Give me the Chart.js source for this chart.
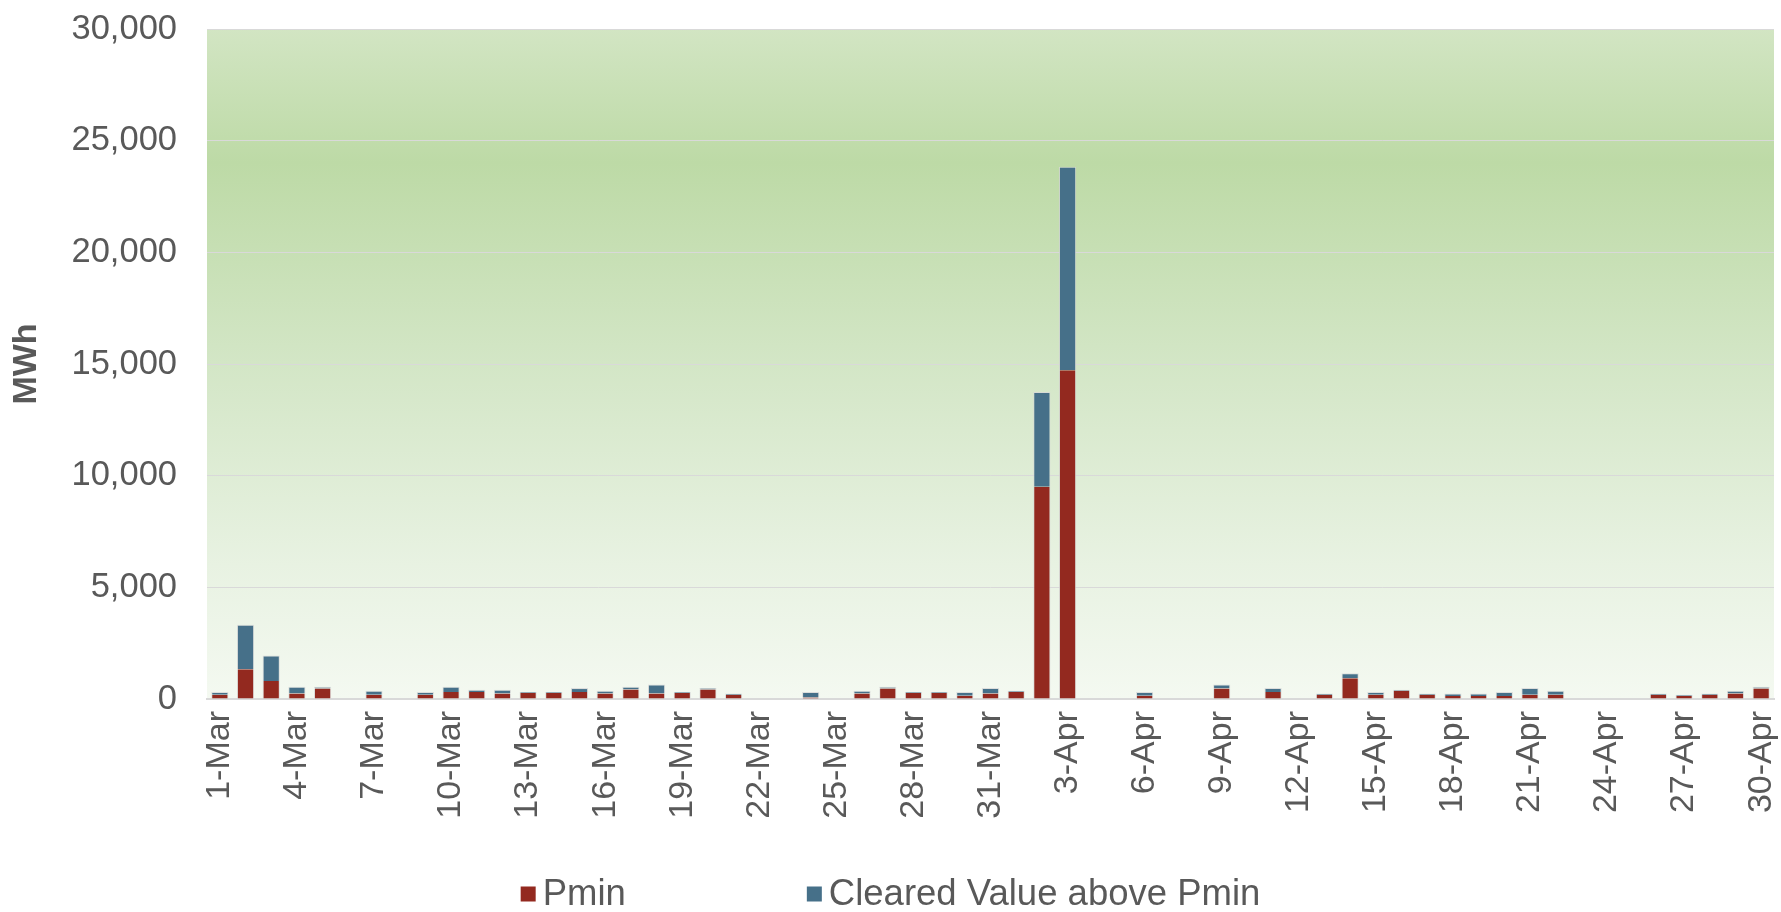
<!DOCTYPE html>
<html>
<head>
<meta charset="utf-8">
<script src="https://cdn.jsdelivr.net/npm/chart.js@4.4.1/dist/chart.umd.min.js"></script>
<style>
  html, body { margin: 0; padding: 0; background: #fff; }
  #wrap { width: 1781px; height: 912px; }
</style>
</head>
<body>
<div id="wrap"><canvas id="chart" width="1781" height="912"></canvas></div>
<script>
// categories: daily, 1-Mar .. 30-Apr
const days = [
  '1-Mar','2-Mar','3-Mar','4-Mar','5-Mar','6-Mar','7-Mar','8-Mar','9-Mar','10-Mar',
  '11-Mar','12-Mar','13-Mar','14-Mar','15-Mar','16-Mar','17-Mar','18-Mar','19-Mar','20-Mar',
  '21-Mar','22-Mar','23-Mar','24-Mar','25-Mar','26-Mar','27-Mar','28-Mar','29-Mar','30-Mar','31-Mar',
  '1-Apr','2-Apr','3-Apr','4-Apr','5-Apr','6-Apr','7-Apr','8-Apr','9-Apr','10-Apr',
  '11-Apr','12-Apr','13-Apr','14-Apr','15-Apr','16-Apr','17-Apr','18-Apr','19-Apr','20-Apr',
  '21-Apr','22-Apr','23-Apr','24-Apr','25-Apr','26-Apr','27-Apr','28-Apr','29-Apr','30-Apr'
];

// MWh
const pmin = [
  190, 1330, 810, 250, 470, 0, 190, 0, 190, 310,
  310, 250, 270, 270, 310, 250, 430, 250, 270, 430,
  190, 0, 0, 70, 0, 250, 470, 270, 270, 150, 250,
  310, 9500, 14720, 0, 0, 150, 0, 0, 470, 0,
  310, 0, 190, 930, 190, 370, 190, 130, 130, 130,
  190, 190, 0, 0, 0, 190, 130, 190, 250, 470
];

const clearedAbove = [
  120, 2000, 1140, 300, 75, 0, 180, 0, 120, 240,
  105, 165, 45, 45, 180, 120, 120, 400, 45, 60,
  60, 0, 0, 240, 0, 120, 75, 40, 40, 160, 240,
  60, 4250, 9110, 0, 0, 160, 0, 0, 180, 0,
  180, 0, 60, 220, 120, 45, 60, 120, 120, 180,
  300, 180, 0, 0, 0, 60, 60, 60, 120, 75
];

const yTicks = [0, 5000, 10000, 15000, 20000, 25000, 30000];

const RED = '#93291f';
const BLUE = '#467089';
const TEXT = '#595959';
const EDGE = 'rgba(215,215,215,0.8)';
const FONT = '"Liberation Sans", Arial, sans-serif';

// green gradient behind the plot area
const PluginPlotBackground = {
  id: 'plotBackground',
  beforeDraw(chart) {
    const {ctx, chartArea: {left, top, right, bottom}} = chart;
    const g = ctx.createLinearGradient(0, top, 0, bottom);
    g.addColorStop(0, '#d2e5c3');
    g.addColorStop(0.2, '#bddaa6');
    g.addColorStop(0.5, '#d3e6c6');
    g.addColorStop(0.8, '#e8f2e2');
    g.addColorStop(1, '#f4f9f1');
    ctx.save();
    ctx.fillStyle = g;
    ctx.fillRect(left, top, right - left, bottom - top);
    ctx.restore();
  }
};

// legend drawn at the bottom with wide spacing between items
const PluginWideLegend = {
  id: 'wideLegend',
  afterDraw(chart, args, options) {
    const {ctx} = chart;
    const items = chart.data.datasets.map(ds => ({text: ds.label, color: ds.backgroundColor}));
    const box = options.boxSize, gap = options.textGap, between = options.itemGap;
    ctx.save();
    ctx.font = `${options.fontSize}px ${FONT}`;
    const widths = items.map(it => box + gap + ctx.measureText(it.text).width);
    const total = widths.reduce((a, b) => a + b, 0) + between * (items.length - 1);
    let x = (chart.width - total) / 2;
    const y = chart.height - options.bottomOffset;
    ctx.textBaseline = 'middle';
    ctx.textAlign = 'left';
    items.forEach((it, i) => {
      ctx.fillStyle = it.color;
      ctx.fillRect(x, y - box / 2, box, box);
      ctx.fillStyle = TEXT;
      ctx.fillText(it.text, x + box + gap, y + 1);
      x += widths[i] + between;
    });
    ctx.restore();
  }
};

const ctx = document.getElementById('chart').getContext('2d');

new Chart(ctx, {
  type: 'bar',
  plugins: [PluginPlotBackground, PluginWideLegend],
  data: {
    labels: days,
    datasets: [
      {
        label: 'Pmin',
        data: pmin,
        backgroundColor: RED,
        borderColor: EDGE,
        borderWidth: {top: 0, left: 1, right: 1, bottom: 0},
      },
      {
        label: 'Cleared Value above Pmin',
        data: clearedAbove,
        backgroundColor: BLUE,
        borderColor: EDGE,
        borderWidth: {top: 1, left: 1, right: 1, bottom: 0},
      }
    ]
  },
  options: {
    responsive: false,
    animation: false,
    devicePixelRatio: 1,
    categoryPercentage: 1,
    barPercentage: 0.67,
    layout: {
      padding: {top: 29, right: 7, bottom: 62, left: 0}
    },
    plugins: {
      legend: {display: false},
      tooltip: {enabled: false},
      wideLegend: {
        fontSize: 36.5,
        boxSize: 15,
        textGap: 7,
        itemGap: 181,
        bottomOffset: 18
      }
    },
    scales: {
      x: {
        stacked: true,
        grid: {display: false, drawTicks: false},
        border: {display: true, color: '#d9d9d9', width: 2},
        ticks: {
          autoSkip: false,
          maxRotation: 90,
          minRotation: 90,
          padding: 12,
          color: TEXT,
          font: {family: FONT, size: 34},
          callback: function(value, index) {
            return index % 3 === 0 ? this.getLabelForValue(value) : null;
          }
        },
        afterFit(scale) {
          scale.height = 912 - 699 - 62;
          scale.paddingLeft = 0;
          scale.paddingRight = 0;
        }
      },
      y: {
        stacked: true,
        min: yTicks[0],
        max: yTicks[yTicks.length - 1],
        afterBuildTicks(scale) {
          scale.ticks = yTicks.map(v => ({value: v}));
        },
        grid: {color: '#d9d9d9', lineWidth: 1, drawTicks: false},
        border: {display: false},
        ticks: {
          padding: 30,
          color: TEXT,
          font: {family: FONT, size: 34.5},
          callback: v => v.toLocaleString('en-US')
        },
        title: {
          display: true,
          text: 'MWh',
          color: TEXT,
          font: {family: FONT, size: 34, weight: 'bold'},
          padding: {top: 6, bottom: 0}
        },
        afterFit(scale) {
          scale.width = 207;
          scale.paddingTop = 0;
          scale.paddingBottom = 0;
        }
      }
    }
  }
});
</script>
</body>
</html>
